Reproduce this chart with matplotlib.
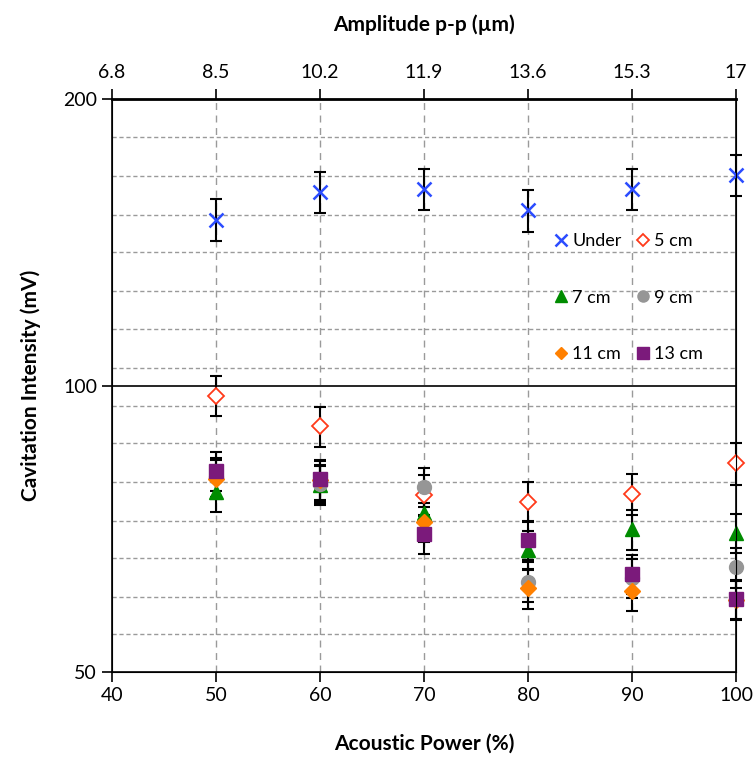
import matplotlib
matplotlib.use("Agg")
import matplotlib.pyplot as plt

plt.rcParams['font.family'] = ['Lato', 'DejaVu Sans']

# acoustic power (%) and matching amplitude labels (top axis)
power = [50, 60, 70, 80, 90, 100]
xticks = [40, 50, 60, 70, 80, 90, 100]
amp_labels = ['6.8', '8.5', '10.2', '11.9', '13.6', '15.3', '17']

# cavitation intensity (mV) for each probe position
under = [149.5, 159.7, 160.9, 152.8, 160.9, 166.6]
under_err = [7.5, 8.0, 8.0, 7.6, 8.0, 8.2]
cm5 = [97.6, 90.6, 76.7, 75.5, 76.9, 82.9]
cm5_err = [4.7, 4.4, 3.8, 3.7, 3.8, 4.2]
cm7 = [77.3, 78.6, 73.5, 67.2, 70.6, 70.0]
cm7_err = [3.6, 3.7, 3.5, 3.2, 3.4, 3.3]
cm9 = [80.2, 78.9, 78.2, 62.2, 62.8, 64.4]
cm9_err = [3.8, 3.7, 3.7, 3.0, 3.0, 3.1]
cm11 = [79.8, 79.5, 71.9, 61.2, 60.9, 59.5]
cm11_err = [3.8, 3.8, 3.4, 2.9, 2.9, 2.8]
cm13 = [81.3, 79.7, 69.9, 68.8, 63.4, 59.6]
cm13_err = [3.9, 3.8, 3.3, 3.3, 3.0, 2.8]

# minor gridline levels as drawn in the original
grid_levels = [54.8, 60.0, 65.9, 72.1, 79.2, 87.0, 95.1,
               104.4, 114.7, 125.8, 138.2, 151.2, 166.1, 182.5]

fig = plt.figure(figsize=(7.55, 7.58), dpi=100)
ax = fig.add_axes([0.148, 0.1135, 0.827, 0.7555])
ax.set_yscale('log')
ax.set_xlim(40, 100)
ax.set_ylim(50, 200)

for g in grid_levels:
    ax.axhline(g, color='#9a9a9a', lw=1.0, ls=(0, (3, 2)), zorder=0)
for xv in power[:-1]:
    ax.axvline(xv, color='#9a9a9a', lw=1.0, ls=(0, (5, 4)), zorder=0)
ax.axhline(100, color='black', lw=1.2, zorder=0)

series = [
    ('Under', under, under_err, dict(marker='x', color='#2b4cff', ms=10, mew=1.8)),
    ('5 cm', cm5, cm5_err, dict(marker='D', color='#ff3a1a', ms=8, mfc='white', mew=1.3)),
    ('7 cm', cm7, cm7_err, dict(marker='^', color='#008c00', ms=10)),
    ('9 cm', cm9, cm9_err, dict(marker='o', color='#969696', ms=10)),
    ('11 cm', cm11, cm11_err, dict(marker='D', color='#ff8000', ms=8)),
    ('13 cm', cm13, cm13_err, dict(marker='s', color='#7b1a7b', ms=10)),
]
handles = {}
for name, vals, err, st in series:
    eb = ax.errorbar(power, vals, yerr=err, ls='none', ecolor='black',
                     elinewidth=1.5, capsize=4, capthick=1.5, zorder=2)
    for art in eb.lines[1] + eb.lines[2]:
        art.set_clip_on(False)
    h, = ax.plot(power, vals, ls='none', label=name, zorder=3, clip_on=False, **st)
    handles[name] = h

order = ['Under', '7 cm', '11 cm', '5 cm', '9 cm', '13 cm']
ax.legend([handles[k] for k in order], order, ncol=2, frameon=False,
          loc='upper left', bbox_to_anchor=(0.677, 0.795), fontsize=13,
          labelspacing=2.25, handletextpad=0.1, columnspacing=0.6,
          handlelength=1.1, markerscale=0.8)

ax.set_xticks(xticks)
ax.set_yticks([50, 100, 200])
ax.set_yticklabels(['50', '100', '200'])
ax.yaxis.set_minor_locator(matplotlib.ticker.NullLocator())
ax.tick_params(axis='both', labelsize=14, direction='out', length=7, width=1.2)
ax.set_xlabel('Acoustic Power (%)', fontsize=15, fontweight='bold', labelpad=22)
ax.set_ylabel('Cavitation Intensity (mV)', fontsize=15, fontweight='bold', labelpad=16)
for s in ax.spines.values():
    s.set_linewidth(1.2)
ax.spines['top'].set_linewidth(2)

top = ax.twiny()
top.set_xlim(40, 100)
top.set_xticks(xticks)
top.set_xticklabels(amp_labels)
top.tick_params(axis='x', labelsize=14, direction='out', length=7, width=1.2, pad=6)
top.set_xlabel('Amplitude p-p (µm)', fontsize=15, fontweight='bold', labelpad=24)

fig.savefig('out.png', dpi=100)
